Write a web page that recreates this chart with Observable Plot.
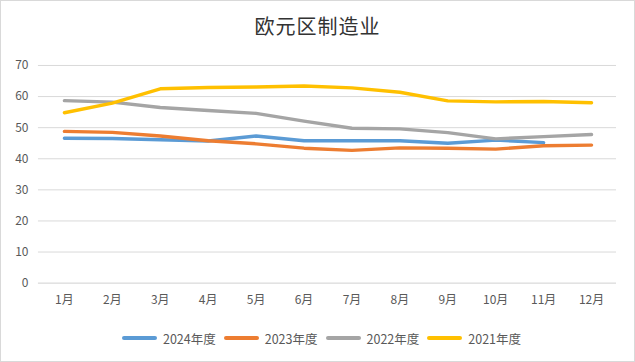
<!DOCTYPE html>
<html><head><meta charset="utf-8">
<script src="https://cdn.jsdelivr.net/npm/d3@7"></script>
<script src="https://cdn.jsdelivr.net/npm/@observablehq/plot@0.6"></script>
<style>
body{margin:0;background:#fff;font-family:"Noto Sans CJK SC","Noto Sans",sans-serif;}
#wrap{position:relative;width:635px;height:362px;box-sizing:border-box;border:1px solid #d9d9d9;overflow:hidden;}
#title{position:absolute;left:0;top:0;width:100%;height:50px;line-height:50px;text-align:center;font-size:20px;color:#333;letter-spacing:1px;}
#chart{position:absolute;left:-1px;top:49px;}
#legend{position:absolute;left:4px;top:322px;width:100%;height:30px;display:flex;justify-content:center;align-items:center;font-size:12.5px;color:#595959;}
.item{display:flex;align-items:center;margin:0 4px 0 4px;}
.sw{width:35px;height:3.5px;border-radius:2px;margin-right:6px;}
</style></head>
<body><div id="wrap"><div id="title">欧元区制造业</div><div id="chart"></div><div id="legend"></div></div>
<script>
const months = ["1月","2月","3月","4月","5月","6月","7月","8月","9月","10月","11月","12月"];
const seriesNames = ["2024年度","2023年度","2022年度","2021年度"];
const colors = ["#5B9BD5","#ED7D31","#A5A5A5","#FFC000"];
const v2024 = [46.6,46.5,46.1,45.7,47.3,45.8,45.8,45.8,45.0,46.0,45.2];
const v2023 = [48.8,48.5,47.3,45.8,44.8,43.4,42.7,43.5,43.4,43.1,44.2,44.4];
const v2022 = [58.7,58.2,56.5,55.5,54.6,52.1,49.8,49.6,48.4,46.4,47.1,47.8];
const v2021 = [54.8,57.9,62.5,62.9,63.1,63.4,62.8,61.4,58.6,58.3,58.4,58.0];
const yTicks = [0,10,20,30,40,50,60,70];

const allVals = [v2024,v2023,v2022,v2021];
const data = [];
allVals.forEach((arr,i)=>arr.forEach((v,j)=>data.push({series:seriesNames[i],month:months[j],value:v})));

const chart = Plot.plot({
  width:635, height:273,
  marginTop:15, marginBottom:40, marginLeft:38, marginRight:18,
  style:{fontFamily:'"Noto Sans CJK SC","Noto Sans",sans-serif',fontSize:"12px",color:"#595959",background:"#fff"},
  x:{type:"point",domain:months,padding:0.5,label:null,tickSize:0,tickPadding:12},
  y:{domain:[0,70],ticks:yTicks,label:null,tickSize:0,tickPadding:10},
  color:{domain:seriesNames,range:colors},
  marks:[
    Plot.gridY(yTicks.filter(d=>d>0),{stroke:"#d9d9d9",strokeOpacity:1,strokeWidth:1}),
    Plot.ruleY([0],{stroke:"#d0d0d0",strokeWidth:1}),
    Plot.axisY({ticks:yTicks,tickSize:0,tickPadding:10,label:null,fill:"#595959"}),
    Plot.axisX({tickSize:0,tickPadding:12,label:null,fill:"#595959"}),
    Plot.line(data,{x:"month",y:"value",z:"series",stroke:"series",strokeWidth:3.4,strokeLinejoin:"round",strokeLinecap:"round"})
  ]
});
document.getElementById("chart").appendChild(chart);

const lg = document.getElementById("legend");
seriesNames.forEach((n,i)=>{
  const it=document.createElement("div");it.className="item";
  const sw=document.createElement("div");sw.className="sw";sw.style.background=colors[i];
  const t=document.createElement("span");t.textContent=n;
  it.appendChild(sw);it.appendChild(t);lg.appendChild(it);
});
</script></body></html>
